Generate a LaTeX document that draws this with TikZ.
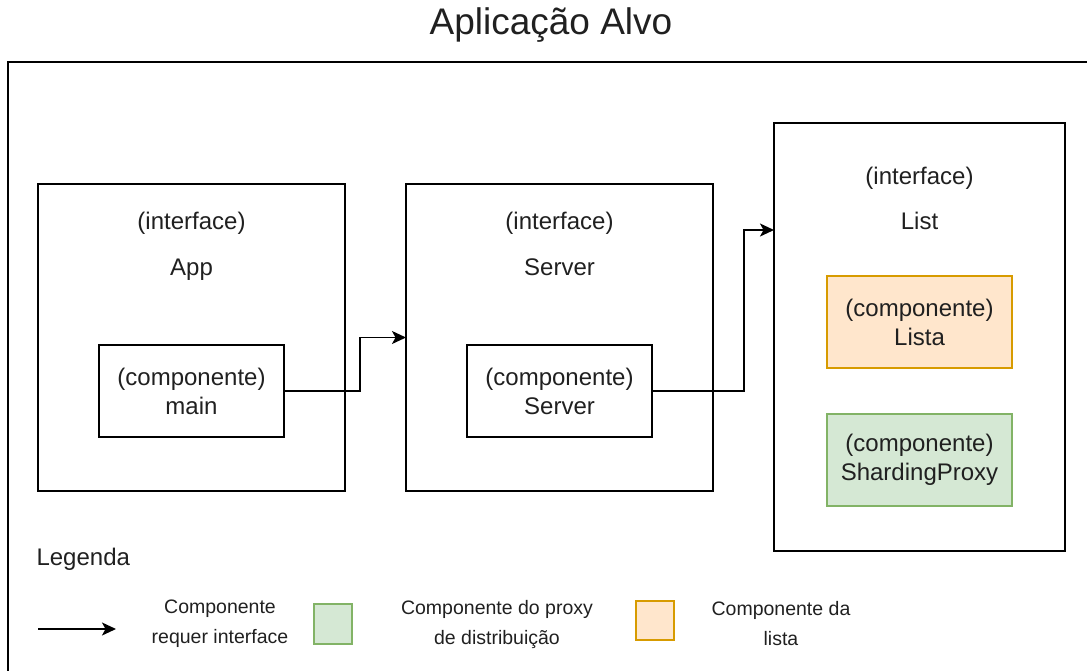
\documentclass[tikz,border=0pt]{standalone}
\usepackage{fontspec}
\setmainfont{Liberation Sans}
\usetikzlibrary{arrows.meta,positioning,calc}

\definecolor{listafill}{HTML}{FFE6CC}
\definecolor{listaline}{HTML}{D79B00}
\definecolor{proxyfill}{HTML}{D5E8D4}
\definecolor{proxyline}{HTML}{82B366}
\definecolor{txt}{HTML}{202020}

\begin{document}
\begin{tikzpicture}[x=1pt,y=-1pt,
    every node/.style={font=\fontsize{24}{29}\selectfont, text=txt},
    frame/.style={draw, line width=1.5pt, inner sep=0pt, outer sep=0pt},
    iface/.style={frame, minimum width=307pt, minimum height=307pt},
    comp/.style={frame, minimum width=185pt, minimum height=92pt, align=center},
    listacomp/.style={comp, draw=listaline, fill=listafill},
    proxycomp/.style={comp, draw=proxyline, fill=proxyfill},
    req/.style={line width=1.5pt, -{Stealth[length=14pt,width=13pt,inset=3.5pt]}},
    legtext/.style={align=center, font=\fontsize{19.5}{30}\selectfont}]
    \clip (0,0) rectangle (1087,670);
    % titulo e moldura
    \node[font=\fontsize{37}{44}\selectfont] (title) at (551,25) {Aplicação Alvo};
    \draw[line width=1.5pt] (8,62) rectangle (1110,700);
    % interfaces
    \node[iface] (app) at (191.5,337.5) {};
    \node[anchor=base] (appkind) at (191.5,229) {(interface)};
    \node[anchor=base] (appname) at (191.5,275) {App};
    \node[iface] (server) at (559.5,337.5) {};
    \node[anchor=base] (serverkind) at (559.5,229) {(interface)};
    \node[anchor=base] (servername) at (559.5,275) {Server};
    \node[frame, minimum width=291pt, minimum height=428pt] (list) at (919.5,337) {};
    \node[anchor=base] (listkind) at (919.5,184) {(interface)};
    \node[anchor=base] (listname) at (919.5,229) {List};
    % componentes
    \node[comp] (main) at (191.5,391) {(componente)\\main};
    \node[comp] (servercomp) at (559.5,391) {(componente)\\Server};
    \node[listacomp] (lista) at (919.5,322) {(componente)\\Lista};
    \node[proxycomp] (proxy) at (919.5,460) {(componente)\\ShardingProxy};
    % dependencias
    \coordinate (listin) at ($(list.north west)!0.25!(list.south west)$);
    \draw[req] (main.east) -- ++(76,0) |- (server.west);
    \draw[req] (servercomp.east) -- ++(92,0) |- (listin);
    % legenda
    \node[anchor=west] (legenda) at (33,559) {Legenda};
    \coordinate (legfrom) at (38,629);
    \coordinate (legto) at (116,629);
    \draw[req] (legfrom) -- (legto);
    \node[legtext] (legreq) at (220,624) {Componente\\requer interface};
    \node[frame, draw=proxyline, fill=proxyfill, minimum width=38pt, minimum height=40pt] (legproxy) at (333,624) {};
    \node[legtext] (legproxytext) at (497,624) {Componente do proxy\\de distribuição};
    \node[frame, draw=listaline, fill=listafill, minimum width=38pt, minimum height=39pt] (leglista) at (655,620.5) {};
    \node[legtext] (leglistatext) at (781,624) {Componente da\\lista};
\end{tikzpicture}
\end{document}
